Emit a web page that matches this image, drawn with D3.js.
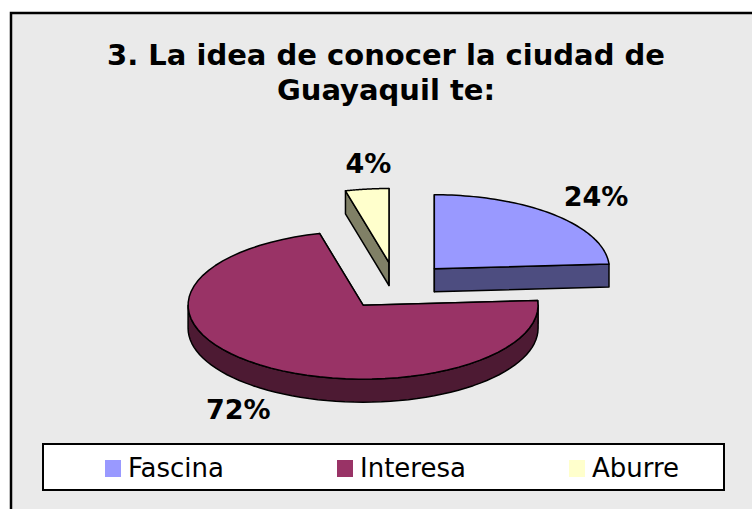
<!DOCTYPE html>
<html>
<head>
  <meta charset="utf-8">
  <title>Guayaquil</title>
  <script src="https://d3js.org/d3.v7.min.js"></script>
  <style>
    body { margin: 0; background: #fff; }
    svg { display: block; }
    text { font-family: Verdana, "DejaVu Sans", sans-serif; }
  </style>
</head>
<body>
  <svg width="752" height="509"></svg>
  <script>
    const titleLines = ["3. La idea de conocer la ciudad de", "Guayaquil te:"];
    const categories = ["Fascina", "Interesa", "Aburre"];
    const values = [24, 72, 4];
    const valueLabels = ["24%", "72%", "4%"];
    const topColors = ["#9999ff", "#993366", "#ffffcc"];
    const sideColors = ["#4d4d80", "#4d1a33", "#808066"];

    const svg = d3.select("svg");

    // chart area
    svg.append("rect")
      .attr("x", 11).attr("y", 13)
      .attr("width", 760).attr("height", 520)
      .attr("fill", "#eaeaea")
      .attr("stroke", "#000")
      .attr("stroke-width", 2.5);

    svg.append("g")
      .selectAll("text")
      .data(titleLines)
      .join("text")
      .attr("x", 386)
      .attr("y", (d, i) => 65 + i * 35)
      .attr("text-anchor", "middle")
      .attr("font-size", 29)
      .attr("font-weight", "bold")
      .text(d => d);

    // 3d pie
    const cx = 396, cy = 286, rx = 175, ry = 74, depth = 23, explode = 0.32;
    const pie = d3.pie().sort(null).value(d => d.value);
    const arcs = pie(categories.map((c, i) => ({ name: c, value: values[i], i })));

    const proj = (a, r, ox, oy) => [ox + r * rx * Math.sin(a), oy - r * ry * Math.cos(a)];
    const arcPts = (a0, a1, ox, oy, dy) =>
      d3.range(0, 61).map(k => {
        const p = proj(a0 + (a1 - a0) * k / 60, 1, ox, oy);
        return [p[0], p[1] + dy];
      });
    const line = d3.line();

    // label placement is a bit off the pure radial spot, like excel does
    const labelShift = { Fascina: 0, Interesa: 14, Aburre: 9 };

    const gPie = svg.append("g")
      .attr("stroke", "#000")
      .attr("stroke-width", 1.5)
      .attr("stroke-linejoin", "round");

    // back to front
    const order = [2, 0, 1];
    order.forEach(idx => {
      const d = arcs[idx];
      const mid = (d.startAngle + d.endAngle) / 2;
      const [ox, oy] = proj(mid, explode, cx, cy);
      const g = gPie.append("g");

      // radial walls
      [d.startAngle, d.endAngle].forEach(a => {
        const rim = proj(a, 1, ox, oy);
        g.append("path")
          .attr("d", line([[ox, oy], rim, [rim[0], rim[1] + depth], [ox, oy + depth]]) + "Z")
          .attr("fill", sideColors[idx]);
      });

      // outer front wall
      const f0 = Math.max(d.startAngle, Math.PI / 2);
      const f1 = Math.min(d.endAngle, 3 * Math.PI / 2);
      if (f1 > f0) {
        const up = arcPts(f0, f1, ox, oy, 0);
        const down = arcPts(f0, f1, ox, oy, depth).reverse();
        g.append("path")
          .attr("d", line(up.concat(down)) + "Z")
          .attr("fill", sideColors[idx]);
      }

      // top
      g.append("path")
        .attr("d", line([[ox, oy]].concat(arcPts(d.startAngle, d.endAngle, ox, oy, 0))) + "Z")
        .attr("fill", topColors[idx]);

      // label
      const lp = proj(mid, 1.35, ox, oy);
      svg.append("text")
        .attr("x", lp[0] + labelShift[d.data.name])
        .attr("y", lp[1] + (Math.cos(mid) < 0 ? depth : 0) + 10)
        .attr("text-anchor", "middle")
        .attr("font-size", 27)
        .attr("font-weight", "bold")
        .text(valueLabels[idx]);
    });

    // legend
    svg.append("rect")
      .attr("x", 43).attr("y", 444)
      .attr("width", 681).attr("height", 46)
      .attr("fill", "#fff")
      .attr("stroke", "#000")
      .attr("stroke-width", 2);

    const lx = d3.scaleBand().domain(categories).range([105, 801]);
    const items = svg.append("g")
      .selectAll("g")
      .data(categories)
      .join("g")
      .attr("transform", d => `translate(${lx(d)},460)`);
    items.append("rect")
      .attr("width", 16).attr("height", 17)
      .attr("fill", (d, i) => topColors[i]);
    items.append("text")
      .attr("x", 23).attr("y", 17)
      .attr("font-size", 26)
      .text(d => d);
  </script>
</body>
</html>
